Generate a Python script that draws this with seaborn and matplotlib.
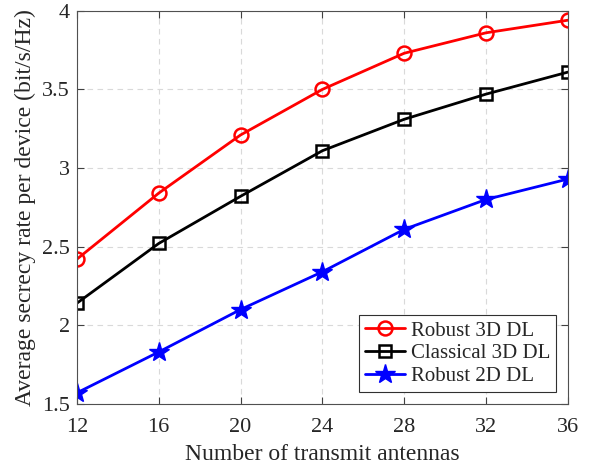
import pandas as pd
import matplotlib
matplotlib.use("Agg")
import matplotlib.pyplot as plt
import seaborn as sns

# Dados
antenas = [12, 16, 20, 24, 28, 32, 36]
robust_3d = [2.42, 2.84, 3.21, 3.50, 3.73, 3.86, 3.94]
classical_3d = [2.14, 2.52, 2.82, 3.11, 3.31, 3.47, 3.61]
robust_2d = [1.57, 1.83, 2.10, 2.34, 2.61, 2.80, 2.93]

series = ["Robust 3D DL", "Classical 3D DL", "Robust 2D DL"]

dados = pd.DataFrame({
    "antenas": antenas * 3,
    "taxa": robust_3d + classical_3d + robust_2d,
    "serie": [s for s in series for _ in antenas],
})

sns.set_style("ticks")
plt.rcParams['font.family'] = ['Liberation Serif', 'DejaVu Serif']

fig = plt.figure(figsize=(5.91, 4.68), dpi=100)
ax = fig.add_axes([0.130, 0.137, 0.831, 0.840])

estilos = {
    "Robust 3D DL": dict(color="#ff0000", marker="o", markersize=10, markerfacecolor="none",
                         markeredgecolor="#ff0000", markeredgewidth=1.8),
    "Classical 3D DL": dict(color="#000000", marker="s", markersize=9, markerfacecolor="none",
                            markeredgecolor="#000000", markeredgewidth=1.8),
    "Robust 2D DL": dict(color="#0000ff", marker="*", markersize=15, markerfacecolor="#0000ff",
                         markeredgecolor="#0000ff", markeredgewidth=1.0),
}

for s in series:
    sns.lineplot(data=dados[dados["serie"] == s], x="antenas", y="taxa", ax=ax,
                 label=s, linewidth=2, **estilos[s])

ax.set_xlim(12, 36)
ax.set_ylim(1.5, 4)
ax.set_xticks(antenas)
ax.set_xticklabels([str(a) for a in antenas])
ax.set_yticks([1.5, 2, 2.5, 3, 3.5, 4])
ax.set_yticklabels(["1.5", "2", "2.5", "3", "3.5", "4"])
ax.grid(True, linestyle=(0, (5, 4)), color="#d9d9d9", linewidth=0.8)
ax.tick_params(direction="in", top=True, right=True, labelsize=16, length=5,
               color="#404040")
ax.tick_params(axis="x", pad=10)
ax.tick_params(axis="y", pad=5)
for sp in ax.spines.values():
    sp.set_color("#505050")
    sp.set_linewidth(0.8)

ax.set_xlabel("Number of transmit antennas", fontsize=17, labelpad=5)
ax.set_ylabel("Average secrecy rate per device (bit/s/Hz)", fontsize=17, labelpad=4)

leg = ax.legend(loc="lower right", fontsize=15, frameon=True, fancybox=False,
                edgecolor="#303030", framealpha=1, borderpad=0.3, handlelength=1.9,
                handletextpad=0.3, labelspacing=0.15, borderaxespad=0.55)
leg.get_frame().set_linewidth(0.8)

fig.savefig("out.png", dpi=100)
